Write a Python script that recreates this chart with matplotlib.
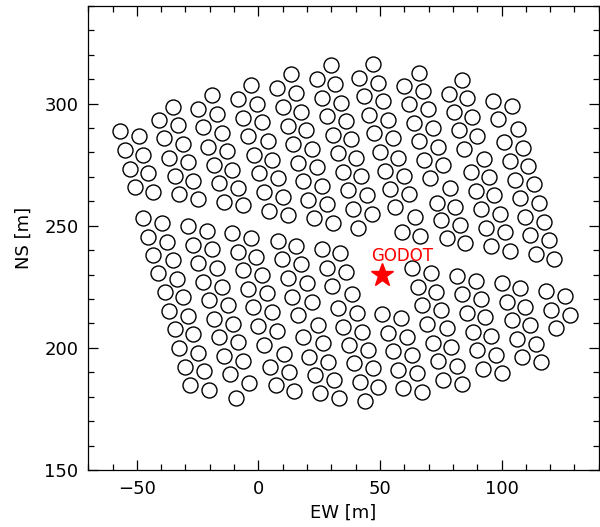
import matplotlib
matplotlib.use("Agg")
import matplotlib.pyplot as plt
from matplotlib.ticker import MultipleLocator

# tank positions (EW, NS) in metres, northern block
north_tanks = [
    (-57.1, 288.6), (-49.3, 286.7), (-54.8, 280.9), (-47.3, 278.9), (-52.7, 273.3), (-45.2, 271.4),
    (-50.7, 265.9), (-43.2, 263.9),
    (-35.3, 298.7), (-40.8, 293.2), (-33.2, 291.2), (-38.8, 285.7), (-31.1, 283.4), (-36.7, 277.9),
    (-29.1, 275.9), (-34.5, 270.3), (-26.8, 268.4), (-32.5, 262.9), (-24.9, 260.8),
    (-19.2, 303.4), (-24.7, 297.6), (-17.1, 295.7), (-22.6, 290.2), (-15.1, 288.0), (-20.6, 282.3),
    (-13.0, 280.5), (-18.4, 274.8), (-10.7, 272.7), (-16.2, 267.3), (-8.5, 265.3), (-14.0, 259.8),
    (-6.5, 258.4),
    (-3.0, 307.6), (-8.3, 301.9), (-0.5, 300.0), (-6.3, 294.2), (1.6, 292.3), (-4.1, 286.7),
    (3.8, 284.6), (-1.9, 279.1), (5.6, 277.0), (0.3, 271.5), (8.0, 269.5), (2.5, 263.8),
    (10.0, 261.9), (4.5, 256.1), (12.2, 254.2),
    (13.4, 312.2), (7.8, 306.2), (15.5, 304.3), (10.0, 298.5), (17.7, 296.7), (12.0, 290.9),
    (19.7, 289.1), (14.1, 283.4), (21.9, 281.6), (16.3, 275.8), (23.9, 274.0), (18.4, 268.2),
    (26.1, 266.3), (20.6, 260.7), (28.3, 258.7), (22.7, 253.0), (30.5, 251.0),
    (29.8, 315.8), (23.9, 310.0), (31.6, 308.1), (26.3, 302.3), (33.9, 300.4), (28.4, 294.8),
    (35.9, 292.8), (30.6, 287.2), (38.1, 285.3), (32.7, 279.6), (40.2, 277.7), (34.8, 272.1),
    (42.3, 270.2), (37.0, 264.5), (44.5, 262.6), (39.1, 256.9), (46.7, 255.0), (41.1, 249.2),
    (47.1, 316.1), (41.5, 310.3), (49.0, 308.5), (43.6, 303.0), (51.4, 300.9), (45.6, 295.3),
    (53.4, 293.2), (47.7, 287.8), (55.5, 285.7), (50.0, 280.1), (57.5, 277.9), (52.1, 272.5),
    (59.9, 270.4), (54.1, 264.9), (61.9, 262.9), (56.2, 257.7), (64.4, 253.4), (58.9, 247.5),
    (66.5, 245.7),
    (66.0, 312.7), (59.9, 307.2), (67.5, 305.2), (62.1, 299.8), (69.9, 297.6), (64.0, 292.1),
    (71.9, 290.1), (66.2, 284.7), (74.0, 282.4), (68.2, 276.8), (76.0, 274.8), (70.6, 269.4),
    (78.8, 265.5), (73.3, 259.5), (80.8, 257.7), (75.3, 252.3), (82.9, 250.2), (77.4, 244.8),
    (85.0, 242.8),
    (83.6, 309.6), (78.4, 304.1), (85.9, 302.1), (80.4, 296.5), (88.0, 294.4), (82.6, 289.0),
    (90.1, 286.8), (84.5, 281.3), (92.8, 277.5), (87.3, 271.9), (94.8, 270.0), (89.3, 264.4),
    (97.0, 262.4), (91.5, 256.7), (99.3, 254.7), (93.6, 249.1), (101.4, 247.3), (95.6, 241.7),
    (103.5, 239.6),
    (96.6, 301.0), (104.1, 299.1), (98.6, 293.5), (106.9, 289.6), (101.2, 284.1), (108.9, 282.0),
    (103.5, 276.4), (111.0, 274.4), (105.5, 268.9), (113.2, 266.9), (107.6, 261.4), (115.2, 259.4),
    (109.6, 253.6), (117.4, 251.6), (111.8, 246.0), (119.5, 244.0), (114.0, 238.4), (121.7, 236.3),
]

# southern block
south_tanks = [
    (-47.3, 253.0), (-45.2, 245.5), (-43.2, 238.0), (-41.1, 230.5), (-38.6, 222.7), (-36.6, 215.2),
    (-34.5, 207.6), (-32.5, 200.0), (-30.1, 192.3), (-28.1, 184.8), (-39.7, 251.2), (-37.4, 243.4),
    (-35.3, 235.9), (-33.3, 228.4), (-31.1, 220.9), (-28.8, 213.1), (-26.7, 205.6), (-24.7, 198.0),
    (-22.3, 190.5), (-20.3, 182.7),
    (-29.1, 250.0), (-26.7, 242.3), (-24.7, 234.8), (-22.6, 227.0), (-20.3, 219.6), (-18.1, 211.8),
    (-16.0, 204.3), (-14.0, 196.8), (-11.6, 189.2), (-9.3, 179.7), (-21.2, 247.8), (-19.2, 240.3),
    (-17.0, 232.8), (-14.8, 225.0), (-12.6, 217.5), (-10.6, 209.7), (-8.2, 202.3), (-6.2, 194.7),
    (-3.7, 185.5),
    (-10.7, 247.1), (-8.5, 239.3), (-6.5, 231.8), (-4.1, 224.3), (-2.1, 216.6), (0.0, 208.9),
    (2.1, 201.1), (4.8, 192.3), (7.1, 184.8), (-3.2, 245.0), (-0.9, 237.3), (1.4, 229.8),
    (3.4, 222.3), (5.5, 214.8), (7.8, 207.0), (10.7, 197.7), (12.6, 190.2), (14.8, 182.4),
    (7.9, 243.8), (9.9, 236.2), (12.0, 228.7), (14.0, 220.9), (16.2, 213.4), (18.5, 204.5),
    (20.8, 196.4), (23.3, 188.9), (25.4, 181.4), (15.3, 241.8), (17.6, 234.2), (19.9, 226.6),
    (21.9, 218.9), (24.4, 209.3), (26.7, 202.1), (28.8, 194.3), (31.2, 186.8), (33.2, 179.3),
    (26.0, 240.3), (28.1, 232.9), (30.4, 225.3), (32.6, 216.4), (34.9, 208.6), (37.3, 201.1),
    (39.5, 193.7), (41.8, 186.1), (43.9, 178.4), (33.6, 238.7), (35.9, 230.9), (38.3, 221.9),
    (40.7, 214.1), (42.7, 206.6), (44.9, 199.1), (47.3, 191.6), (49.3, 184.1),
    (51.0, 213.7), (53.1, 206.2), (55.2, 198.7), (57.5, 190.9), (59.6, 183.4), (58.7, 212.1),
    (61.0, 204.5), (63.0, 197.1), (65.1, 189.6), (67.1, 182.0),
    (63.3, 232.5), (65.5, 225.0), (67.3, 217.4), (69.5, 209.7), (71.9, 202.1), (74.0, 194.6),
    (76.0, 186.8), (71.0, 230.7), (72.9, 223.0), (74.9, 215.5), (77.4, 208.0), (79.4, 200.3),
    (81.7, 192.7), (83.8, 185.1),
    (81.5, 229.4), (83.6, 221.9), (85.6, 214.4), (88.1, 206.6), (90.1, 199.0), (92.4, 191.4),
    (89.3, 227.5), (91.4, 220.0), (93.4, 212.5), (95.6, 204.8), (97.9, 197.3), (100.0, 189.6),
    (100.0, 226.4), (102.1, 218.7), (104.1, 211.4), (106.3, 203.7), (108.5, 196.1), (107.6, 224.5),
    (109.6, 216.8), (111.9, 209.3), (114.0, 201.7), (116.2, 194.1),
    (118.1, 223.4), (120.3, 215.5), (122.6, 208.0), (126.1, 221.2), (128.1, 213.5),
]

godot_pos = (50.8, 229.8)
godot_label = "GODOT"

fig = plt.figure(figsize=(6.0, 5.27), dpi=100)
ax = fig.add_axes([0.147, 0.108, 0.851, 0.881])

for tanks in (north_tanks, south_tanks):
    ew, ns = zip(*tanks)
    ax.plot(ew, ns, 'o', ls='none', mfc='none', mec='black', ms=10.8, mew=1.0)

# GODOT position
ax.plot(godot_pos[0], godot_pos[1], '*', color='red', ms=17, mec='red')
ax.text(godot_pos[0] + 8.5, godot_pos[1] + 4.0, godot_label, color='red',
        fontsize=12, ha='center', va='bottom')

ax.set_xlim(-70, 140)
ax.set_ylim(150, 340)
ax.xaxis.set_major_locator(MultipleLocator(50))
ax.xaxis.set_minor_locator(MultipleLocator(10))
ax.yaxis.set_major_locator(MultipleLocator(50))
ax.yaxis.set_minor_locator(MultipleLocator(10))
ax.tick_params(which='both', direction='in', top=True, right=True, labelsize=13, width=0.9)
ax.tick_params(which='major', length=7.5, pad=7)
ax.tick_params(which='minor', length=4)
for s in ax.spines.values():
    s.set_linewidth(0.9)

ax.set_xlabel('EW [m]', fontsize=13, labelpad=4)
ax.set_ylabel('NS [m]', fontsize=13, labelpad=8)

fig.savefig('out.png', dpi=100)
